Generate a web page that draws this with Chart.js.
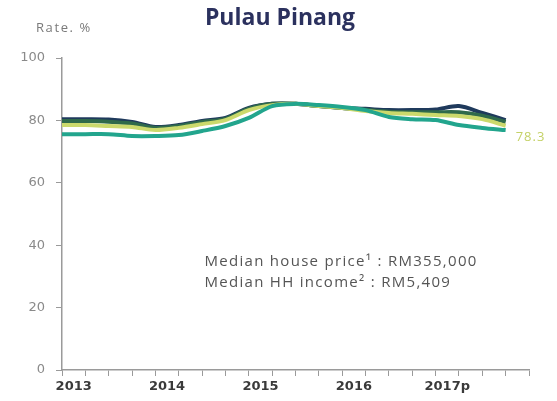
<!DOCTYPE html>
<html>
<head>
  <title>Pulau Pinang</title>
  <style>
    html, body { margin: 0; padding: 0; background: #fff; }
    #chart-container { width: 557px; height: 401px; }
  </style>
</head>
<body>
  <div id="chart-container">
    <canvas id="rate-chart"></canvas>
  </div>

  <script src="https://cdn.jsdelivr.net/npm/chart.js"></script>
  <script>
    // Kwartalen 2013 Q1 t/m 2017 Q4 (index 0..19), jaarlabels in het eerste kwartaal
    const yearLabels = ['2013', '2014', '2015', '2016', '2017p'];
    const quarters = [0, 1, 2, 3, 4, 5, 6, 7, 8, 9, 10, 11, 12, 13, 14, 15, 16, 17, 18, 19];

    const navySeries   = [80.4, 80.4, 80.3, 79.5, 77.9, 78.5, 79.8, 80.8, 84.0, 85.3, 85.3, 84.6, 84.0, 83.7, 83.3, 83.3, 83.5, 84.6, 82.4, 80.1];
    const greenSeries  = [79.8, 79.8, 79.6, 79.0, 77.6, 78.2, 79.5, 80.5, 83.8, 85.3, 85.3, 84.6, 84.0, 83.4, 82.8, 82.6, 82.6, 82.6, 81.5, 79.5];
    const yellowSeries = [78.5, 78.5, 78.2, 77.9, 76.9, 77.6, 78.8, 80.1, 83.3, 84.9, 85.3, 84.6, 84.0, 83.0, 82.4, 82.1, 81.7, 81.4, 80.4, 78.3];
    const tealSeries   = [75.6, 75.6, 75.6, 75.0, 75.0, 75.3, 76.6, 78.2, 80.8, 84.6, 85.3, 84.9, 84.3, 83.3, 81.1, 80.4, 80.1, 78.5, 77.6, 76.9];

    const chartTitle = 'Pulau Pinang';
    const notes = ['Median house price¹ : RM355,000', 'Median HH income² : RM5,409'];

    const toPoints = arr => arr.map((v, i) => ({ x: quarters[i], y: v }));

    // Extra teksten: titel, eenheid, notities en eindwaarde van de gele lijn
    const textPlugin = {
      id: 'texts',
      afterDraw(chart) {
        const ctx = chart.ctx;
        const xs = chart.scales.x;
        const ys = chart.scales.y;
        ctx.save();
        ctx.textBaseline = 'middle';

        ctx.textAlign = 'center';
        ctx.fillStyle = '#2b315e';
        ctx.font = 'bold 23px "Open Sans"';
        ctx.fillText(chartTitle, 280, 18);

        ctx.textAlign = 'left';
        ctx.fillStyle = '#7a7a7a';
        ctx.font = '13px "Open Sans"';
        ctx.letterSpacing = '1.6px';
        ctx.fillText('Rate. %', 36, 28);

        ctx.fillStyle = '#555';
        ctx.font = '15px "Open Sans"';
        ctx.letterSpacing = '1.3px';
        ctx.fillText(notes[0], xs.getPixelForValue(6.1), ys.getPixelForValue(34.6));
        ctx.fillText(notes[1], xs.getPixelForValue(6.1), ys.getPixelForValue(27.9));

        const last = yellowSeries.length - 1;
        ctx.fillStyle = '#c4d166';
        ctx.font = '13px "Open Sans"';
        ctx.letterSpacing = '1px';
        ctx.fillText(yellowSeries[last].toFixed(1), xs.getPixelForValue(quarters[last]) + 10, ys.getPixelForValue(yellowSeries[last]) + 12);
        ctx.restore();
      }
    };

    const lineStyle = { borderWidth: 4, pointRadius: 0, tension: 0.3, fill: false };

    const ctx = document.getElementById('rate-chart').getContext('2d');
    new Chart(ctx, {
      type: 'line',
      data: {
        datasets: [
          { label: 'teal', data: toPoints(tealSeries), borderColor: '#22a58d', ...lineStyle },
          { label: 'yellow', data: toPoints(yellowSeries), borderColor: '#cbd96c', ...lineStyle },
          { label: 'green', data: toPoints(greenSeries), borderColor: '#2f6a4b', ...lineStyle },
          { label: 'navy', data: toPoints(navySeries), borderColor: '#1f3a5c', ...lineStyle }
        ]
      },
      options: {
        responsive: true,
        maintainAspectRatio: false,
        animation: false,
        layout: { padding: { left: 0, right: 28, top: 58, bottom: 0 } },
        plugins: {
          legend: { display: false },
          tooltip: { enabled: false },
          title: { display: false }
        },
        scales: {
          x: {
            type: 'linear',
            min: 0,
            max: 20,
            afterFit: scale => { scale.height = 31; },
            border: { display: true, color: '#9a9a9a', width: 1.5 },
            grid: {
              drawOnChartArea: false,
              drawTicks: true,
              tickLength: 6,
              tickColor: c => (c.tick && Number.isInteger(c.tick.value)) ? '#9a9a9a' : 'rgba(0,0,0,0)'
            },
            ticks: {
              stepSize: 0.5,
              autoSkip: false,
              maxRotation: 0,
              padding: 3,
              color: '#3a3a3a',
              font: { family: '"DejaVu Sans"', size: 13, weight: 'bold' },
              callback: v => (v % 4 === 0.5) ? yearLabels[(v - 0.5) / 4] : ''
            }
          },
          y: {
            min: 0,
            max: 100,
            afterFit: scale => { scale.width = 62; },
            border: { display: true, color: '#9a9a9a', width: 1.5 },
            grid: { drawOnChartArea: false, drawTicks: true, tickLength: 6, tickColor: '#9a9a9a' },
            ticks: {
              stepSize: 20,
              padding: 11,
              color: '#8a8a8a',
              font: { family: '"DejaVu Sans"', size: 13 }
            }
          }
        }
      },
      plugins: [textPlugin]
    });
  </script>
</body>
</html>
